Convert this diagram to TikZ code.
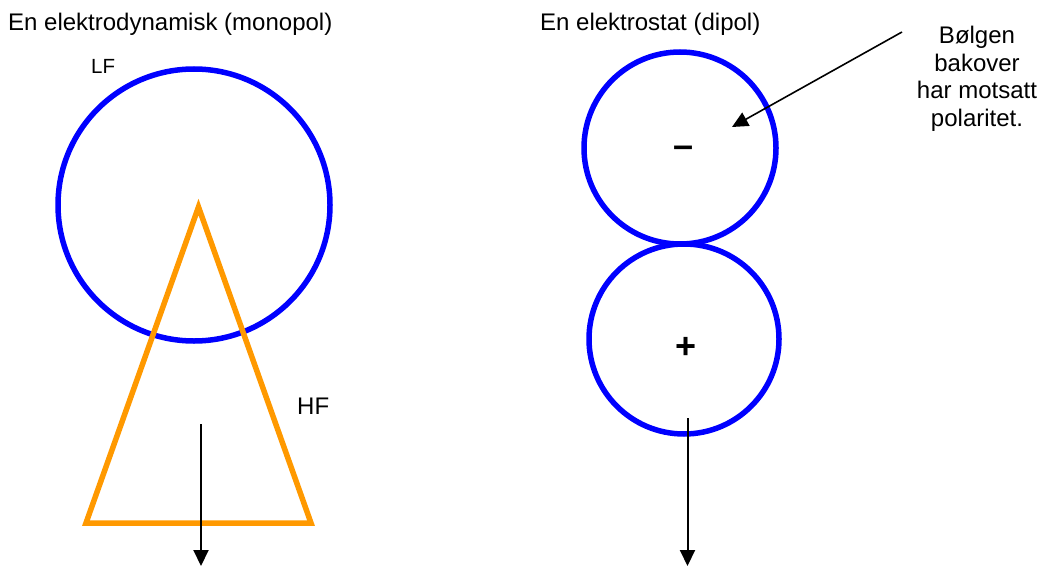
\documentclass[tikz,border=0pt]{standalone}
\usepackage{fontspec}
\setmainfont{Liberation Sans}
\usetikzlibrary{arrows.meta,positioning}
\definecolor{poleblue}{HTML}{0000FF}
\definecolor{hforange}{HTML}{FF9900}

\begin{document}
\begin{tikzpicture}[x=1pt,y=-1pt,
 every node/.style={inner sep=0pt,font=\fontsize{24}{27.5}\selectfont},
 pole/.style={draw=poleblue,line width=5.5pt,circle},
 sign/.style={anchor=base,font=\fontsize{36}{36}\selectfont\bfseries},
 wave/.style={-{Triangle[width=15pt,length=16pt]},line width=2pt}]
\useasboundingbox (0,0) rectangle (1043,567);
\node[anchor=base west] (monotitle) at (8,31) {En elektrodynamisk (monopol)};
\node[anchor=base west] (dipoltitle) at (540,31) {En elektrostat (dipol)};
\node[pole,minimum size=272pt] (lf) at (194,205) {};
\draw[hforange,line width=5.5pt] (198.5,207) -- (311,523) -- (86,523) -- cycle;
\node[anchor=base west,font=\fontsize{20.5}{24}\selectfont] (lflabel) at (91,74) {LF};
\node[anchor=base west] (hflabel) at (297,414) {HF};
\node[pole,minimum size=192pt] (upper) at (680,148) {};
\node[pole,minimum size=190pt] (lower) at (684,339) {};
\node[sign] (minus) at (683,157) {–};
\node[sign] (plus) at (686,358.5) {+};
\node[align=center,anchor=north] (note) at (977,26) {Bølgen\\bakover\\har motsatt\\polaritet.};
\coordinate (notetail) at (902,32);
\coordinate (notehead) at (732,127);
\coordinate (monostart) at (201,424);
\coordinate (monoend) at (201,566);
\coordinate (dipolstart) at (687.5,418);
\coordinate (dipolend) at (687.5,566);
\draw[wave,line width=1.6pt] (notetail) -- (notehead);
\draw[wave] (monostart) -- (monoend);
\draw[wave] (dipolstart) -- (dipolend);
\end{tikzpicture}
\end{document}
